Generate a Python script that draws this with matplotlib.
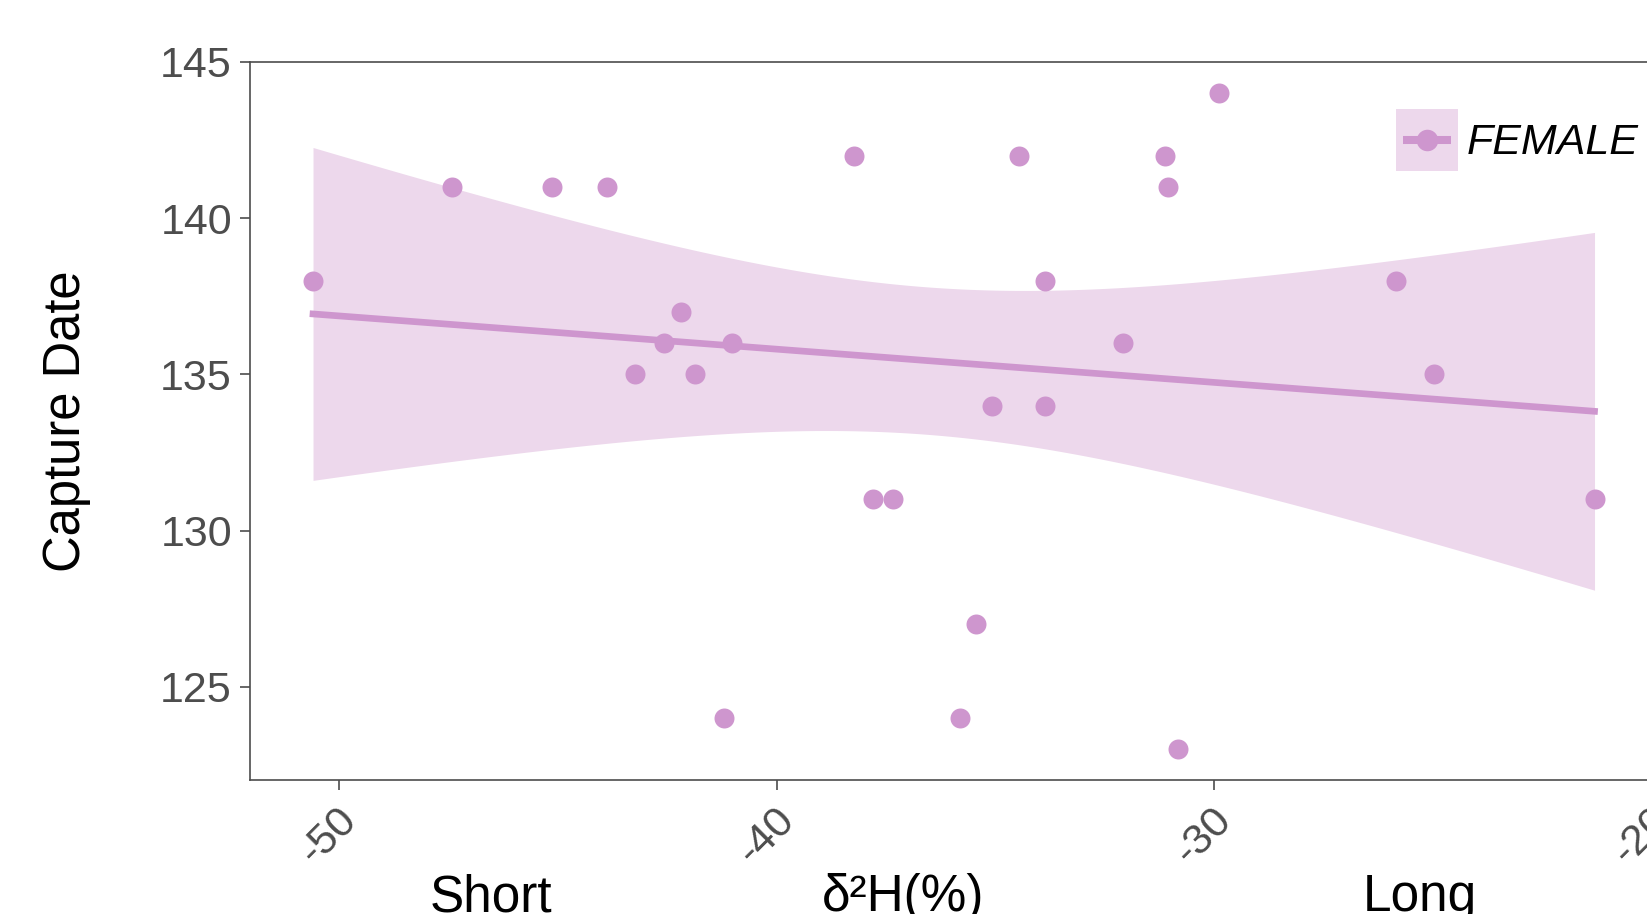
import numpy as np
import matplotlib
matplotlib.use("Agg")
import matplotlib.pyplot as plt
from matplotlib.patches import Rectangle
from matplotlib.lines import Line2D
import matplotlib.transforms as mtransforms

plt.rcParams["font.family"] = ["Liberation Sans", "DejaVu Sans"]

# isotope value vs capture day, females
d2h = [-50.6, -47.43, -45.13, -43.88, -43.25, -42.58, -42.20, -41.86, -41.02,
       -41.21, -38.24, -37.80, -37.35, -35.81, -35.45, -35.07, -34.47, -33.87,
       -33.87, -32.09, -31.13, -31.06, -30.82, -29.90, -25.85, -24.98, -21.31]
capture = [138, 141, 141, 141, 135, 136, 137, 135, 136,
           124, 142, 131, 131, 124, 127, 134, 142, 138,
           134, 136, 142, 141, 123, 144, 138, 135, 131]
xticks = [-50, -40, -30, -20]
yticks = [125, 130, 135, 140, 145]
group = "FEMALE"

col = "#CE96CE"
band_col = "#EDD8EC"
grey = "#4D4D4D"


class KeyHandler:
    # filled square with a short line and a dot, like a ggplot key
    def legend_artist(self, legend, orig_handle, fontsize, handlebox):
        x0, y0 = -handlebox.xdescent, -handlebox.ydescent
        w, h = handlebox.width, handlebox.height
        tr = handlebox.get_transform()
        rect = Rectangle((x0, y0), w, h, facecolor=band_col, edgecolor="none", transform=tr)
        line = Line2D([x0 + 0.12 * w, x0 + 0.88 * w], [y0 + h / 2] * 2, color=col,
                      lw=5.8, solid_capstyle="butt", transform=tr)
        dot = Line2D([x0 + w / 2], [y0 + h / 2], marker="o", markersize=15.5,
                     markeredgewidth=0, color=col, transform=tr)
        for art in (rect, line, dot):
            handlebox.add_artist(art)
        return rect


x = np.array(d2h)
y = np.array(capture, dtype=float)

# linear fit with 95% confidence band (t for 25 df)
n = len(x)
b, a = np.polyfit(x, y, 1)
xs = np.linspace(x.min(), x.max(), 200)
fit = a + b * xs
res = y - (a + b * x)
s = np.sqrt(np.sum(res ** 2) / (n - 2))
se = s * np.sqrt(1 / n + (xs - x.mean()) ** 2 / np.sum((x - x.mean()) ** 2))
tval = 2.0595
lo, hi = fit - tval * se, fit + tval * se

fig = plt.figure(figsize=(16.47, 9.14), dpi=100)
ax = fig.add_axes([0.1518, 0.1461, 0.8777, 0.7861])

ax.fill_between(xs, lo, hi, color=band_col, lw=0, zorder=1)
ax.plot(xs, fit, color=col, lw=4.8, zorder=2)
ax.scatter(x, y, s=207, color=col, lw=0, zorder=3)

ax.set_xlim(-52.04, -19.0)
ax.set_ylim(122.0, 145.0)
ax.set_xticks(xticks)
ax.set_yticks(yticks)
ax.set_xticklabels([str(v) for v in xticks])

for sp in ax.spines.values():
    sp.set_color(grey)
    sp.set_linewidth(1.2)

ax.tick_params(axis="both", direction="out", length=7, width=1.2, color=grey,
               labelcolor=grey, labelsize=31, pad=6)
ax.tick_params(axis="x", pad=8)
offset = mtransforms.ScaledTranslation(-2 / 72, 1 / 72, fig.dpi_scale_trans)
for lab in ax.get_xticklabels():
    lab.set_rotation(45)
    lab.set_ha("right")
    lab.set_va("top")
    lab.set_rotation_mode("anchor")
    lab.set_transform(lab.get_transform() + offset)

ax.set_ylabel("Capture Date", fontsize=36.5, color="black", labelpad=50)

# text under the axis
fig.text(467 * 1.0504 / 1647, 0.003, "Short", fontsize=37, ha="center", va="baseline")
fig.text(860 * 1.0504 / 1647, 0.003, "δ²H(%)", fontsize=37, ha="center", va="baseline")
fig.text(1352 * 1.0504 / 1647, 0.003, "Long", fontsize=37, ha="center", va="baseline")

fig.legend([object()], [group], handler_map={object: KeyHandler()},
           loc="center left", bbox_to_anchor=(0.8476, 0.8468), frameon=False,
           borderpad=0, borderaxespad=0, handlelength=1.44, handleheight=1.84,
           handletextpad=0.2, prop={"size": 31, "style": "italic"})

fig.savefig("out.png", dpi=100)
